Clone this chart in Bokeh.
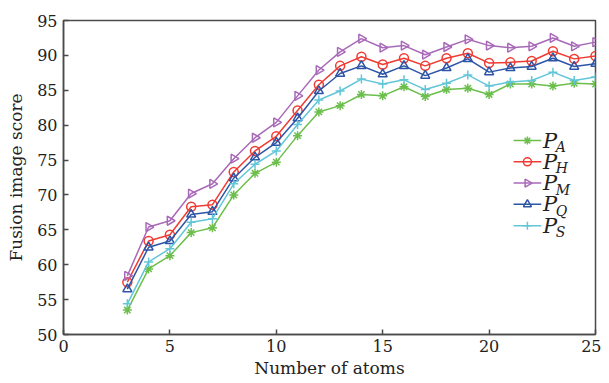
from bokeh.plotting import figure
from bokeh.models import Range1d, FixedTicker, Label
from bokeh.embed import file_html
from bokeh.resources import INLINE

atoms = [3, 4, 5, 6, 7, 8, 9, 10, 11, 12, 13, 14, 15, 16, 17, 18, 19, 20, 21, 22, 23, 24, 25]
P_A = [53.5, 59.4, 61.3, 64.6, 65.3, 70.0, 73.1, 74.7, 78.5, 81.9, 82.8, 84.4, 84.2, 85.5, 84.1, 85.1, 85.3, 84.4, 85.9, 85.9, 85.6, 86.0, 85.9]
P_H = [57.5, 63.4, 64.3, 68.3, 68.6, 73.3, 76.3, 78.4, 82.1, 85.8, 88.5, 89.8, 88.7, 89.6, 88.5, 89.6, 90.3, 88.9, 89.0, 89.2, 90.6, 89.5, 89.9]
P_M = [58.4, 65.4, 66.3, 70.2, 71.6, 75.2, 78.2, 80.4, 84.2, 87.9, 90.5, 92.4, 91.1, 91.4, 90.1, 91.2, 92.3, 91.4, 91.1, 91.3, 92.5, 91.3, 91.9]
P_Q = [56.5, 62.5, 63.4, 67.2, 67.6, 72.4, 75.4, 77.5, 81.0, 84.9, 87.4, 88.5, 87.3, 88.5, 87.1, 88.2, 89.5, 87.6, 88.2, 88.4, 89.6, 88.4, 88.8]
P_S = [54.4, 60.4, 62.3, 66.1, 66.6, 71.6, 74.4, 76.3, 80.1, 83.6, 84.9, 86.6, 85.9, 86.5, 85.1, 86.0, 87.2, 85.6, 86.2, 86.4, 87.6, 86.4, 86.9]

series_names = ["A", "H", "M", "Q", "S"]
series_values = [P_A, P_H, P_M, P_Q, P_S]
colors = ["#6cbf4c", "#f03a32", "#a869b8", "#2d55a6", "#62c6d8"]
markers = ["asterisk", "circle", "triangle", "triangle", "cross"]
angles = [0, 0, -1.5708, 0, 0]
x_ticks = [0, 5, 10, 15, 20, 25]
y_ticks = [50, 55, 60, 65, 70, 75, 80, 85, 90, 95]

FONT = "DejaVu Serif"
AXIS_COLOR = "#4a4a4a"

p = figure(width=601, height=380, output_backend="svg", toolbar_location=None,
           x_range=Range1d(0, 25), y_range=Range1d(50, 95),
           min_border_left=63, min_border_right=6, min_border_top=20, min_border_bottom=43)

p.xgrid.visible = False
p.ygrid.visible = False
p.outline_line_color = AXIS_COLOR
p.outline_line_width = 1.5
p.background_fill_color = "white"

for ax in (p.xaxis[0], p.yaxis[0]):
    ax.axis_line_color = AXIS_COLOR
    ax.axis_line_width = 1.5
    ax.major_tick_line_color = AXIS_COLOR
    ax.major_tick_line_width = 1.5
    ax.major_tick_in = 5
    ax.major_tick_out = 0
    ax.minor_tick_line_color = None
    ax.major_label_text_font = FONT
    ax.major_label_text_font_size = "16px"
    ax.major_label_text_color = "#222222"
    ax.axis_label_text_font = FONT
    ax.axis_label_text_font_size = "17px"
    ax.axis_label_text_font_style = "normal"
    ax.axis_label_text_color = "#222222"

p.xaxis.ticker = FixedTicker(ticks=x_ticks)
p.yaxis.ticker = FixedTicker(ticks=y_ticks)
p.xaxis.axis_label = "Number of atoms"
p.yaxis.axis_label = "Fusion image score"
p.xaxis.major_label_standoff = 5
p.xaxis.axis_label_standoff = 3
p.yaxis.major_label_standoff = 6
p.yaxis.axis_label_standoff = 8

for vals, c, m, a in zip(series_values, colors, markers, angles):
    p.line(atoms, vals, line_color=c, line_width=1.5)
    p.scatter(atoms, vals, marker=m, size=9, angle=a, line_color=c, fill_color=None, line_width=1.5)

# legend (layout constants in data space)
LEG_X0, LEG_X1 = 21.15, 22.45
LEG_Y0, LEG_DY = 77.8, 3.05
for i, (name, c, m, a) in enumerate(zip(series_names, colors, markers, angles)):
    y = LEG_Y0 - i * LEG_DY
    p.line([LEG_X0, LEG_X1], [y, y], line_color=c, line_width=1.5)
    p.scatter([(LEG_X0 + LEG_X1) / 2], [y], marker=m, size=8, angle=a, line_color=c, fill_color=None, line_width=1.5)
    p.add_layout(Label(x=LEG_X1 + 0.08, y=y, text="P", text_font=FONT, text_font_style="italic",
                       text_font_size="21px", text_baseline="middle", text_color="#222222"))
    p.add_layout(Label(x=LEG_X1 + 0.68, y=y - 0.95, text=name, text_font=FONT, text_font_style="italic",
                       text_font_size="14px", text_baseline="middle", text_color="#222222"))

open("out.html", "w").write(file_html(p, INLINE))
